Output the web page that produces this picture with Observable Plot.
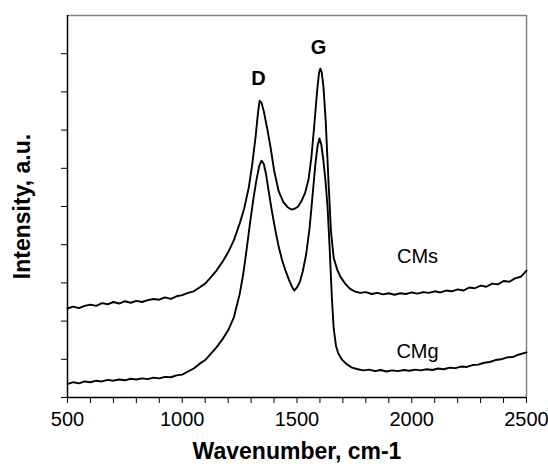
<!DOCTYPE html>
<html>
<head>
<meta charset="utf-8">
<script src="https://cdn.jsdelivr.net/npm/d3@7"></script>
<script src="https://cdn.jsdelivr.net/npm/@observablehq/plot@0.6"></script>
<style>
  html, body { margin: 0; padding: 0; background: white; }
</style>
</head>
<body>
<div id="chart"></div>
<script>
// Raman spectra (intensity in arbitrary units, 0–10 frame)
const cmsWavenumber = [500, 525, 550, 575, 600, 625, 650, 675, 700, 725, 750, 775, 800, 825, 850, 875, 900, 925, 950, 975, 1000, 1025, 1050, 1075, 1100, 1125, 1150, 1175, 1200, 1225, 1250, 1270, 1290, 1305, 1320, 1330, 1337, 1345, 1355, 1370, 1385, 1400, 1420, 1440, 1460, 1475, 1490, 1505, 1520, 1535, 1550, 1562, 1575, 1588, 1596, 1602, 1608, 1615, 1625, 1637, 1648, 1660, 1675, 1690, 1710, 1730, 1750, 1775, 1800, 1825, 1850, 1875, 1900, 1925, 1950, 1975, 2000, 2025, 2050, 2075, 2100, 2125, 2150, 2175, 2200, 2225, 2250, 2275, 2300, 2325, 2350, 2375, 2400, 2425, 2450, 2475, 2500];
const cmsIntensity  = [2.33, 2.38, 2.34, 2.40, 2.43, 2.40, 2.47, 2.44, 2.50, 2.46, 2.52, 2.48, 2.53, 2.50, 2.55, 2.58, 2.56, 2.62, 2.58, 2.65, 2.68, 2.74, 2.78, 2.88, 2.98, 3.15, 3.33, 3.55, 3.80, 4.12, 4.55, 4.95, 5.50, 6.10, 6.85, 7.45, 7.77, 7.72, 7.50, 7.05, 6.54, 5.95, 5.40, 5.12, 4.98, 4.92, 4.94, 5.00, 5.15, 5.35, 5.70, 6.25, 7.10, 8.05, 8.50, 8.61, 8.50, 8.15, 7.25, 5.68, 4.35, 3.65, 3.35, 3.15, 2.98, 2.85, 2.78, 2.74, 2.76, 2.71, 2.74, 2.70, 2.73, 2.69, 2.73, 2.71, 2.75, 2.72, 2.76, 2.74, 2.78, 2.75, 2.80, 2.78, 2.83, 2.80, 2.88, 2.86, 2.93, 2.90, 2.98, 2.96, 3.05, 3.03, 3.12, 3.16, 3.32];

const cmgWavenumber = [500, 525, 550, 575, 600, 625, 650, 675, 700, 725, 750, 775, 800, 825, 850, 875, 900, 925, 950, 975, 1000, 1025, 1050, 1075, 1100, 1125, 1150, 1175, 1200, 1225, 1250, 1265, 1280, 1295, 1310, 1322, 1335, 1345, 1355, 1365, 1376, 1390, 1405, 1420, 1435, 1450, 1465, 1478, 1488, 1500, 1512, 1525, 1540, 1555, 1568, 1580, 1590, 1598, 1606, 1615, 1624, 1633, 1642, 1652, 1660, 1670, 1680, 1695, 1715, 1740, 1765, 1790, 1815, 1840, 1865, 1890, 1915, 1940, 1965, 1990, 2015, 2040, 2065, 2090, 2115, 2140, 2165, 2190, 2215, 2240, 2265, 2290, 2315, 2340, 2365, 2390, 2415, 2440, 2465, 2500];
const cmgIntensity  = [0.35, 0.40, 0.37, 0.42, 0.40, 0.44, 0.42, 0.46, 0.44, 0.47, 0.45, 0.49, 0.47, 0.50, 0.48, 0.52, 0.50, 0.54, 0.53, 0.58, 0.60, 0.68, 0.76, 0.88, 0.98, 1.15, 1.32, 1.52, 1.76, 2.10, 2.70, 3.20, 3.85, 4.55, 5.20, 5.65, 6.05, 6.20, 6.12, 5.85, 5.42, 4.90, 4.40, 3.95, 3.60, 3.32, 3.08, 2.90, 2.80, 2.88, 3.02, 3.30, 3.75, 4.45, 5.30, 6.10, 6.60, 6.78, 6.62, 6.20, 5.68, 5.00, 3.95, 2.60, 1.80, 1.35, 1.15, 1.00, 0.88, 0.78, 0.74, 0.71, 0.73, 0.69, 0.72, 0.68, 0.71, 0.69, 0.72, 0.70, 0.73, 0.71, 0.74, 0.72, 0.76, 0.74, 0.78, 0.77, 0.81, 0.80, 0.85, 0.86, 0.91, 0.93, 0.98, 1.00, 1.05, 1.06, 1.12, 1.18];

const xTicks = d3.range(500, 2501, 100);
const xLabelTicks = [500, 1000, 1500, 2000, 2500];
const yTicks = d3.range(0, 10, 1);

const peakLabels = [
  {text: "D", x: 1332, y: 8.35},
  {text: "G", x: 1594, y: 9.16}
];
const seriesLabels = [
  {text: "CMs", x: 2025, y: 3.69},
  {text: "CMg", x: 2025, y: 1.20}
];

const cms = cmsWavenumber.map((x, i) => ({x, y: cmsIntensity[i]}));
const cmg = cmgWavenumber.map((x, i) => ({x, y: cmgIntensity[i]}));

const font = "'Liberation Sans', Arial, sans-serif";

const chart = Plot.plot({
  width: 548,
  height: 475,
  marginLeft: 67,
  marginRight: 22,
  marginTop: 15,
  marginBottom: 78,
  style: {fontFamily: font, fontSize: "20px", background: "white", color: "black"},
  x: {domain: [500, 2500]},
  y: {domain: [0, 10]},
  marks: [
    Plot.ruleY([10], {stroke: "#808080", strokeWidth: 1.5}),
    Plot.ruleX([2500], {stroke: "#808080", strokeWidth: 1.5}),
    Plot.axisX({
      ticks: xTicks,
      tickSize: 6,
      tickPadding: 8,
      fontSize: 20,
      tickFormat: d => xLabelTicks.includes(d) ? String(d) : "",
      label: null
    }),
    Plot.axisY({
      ticks: yTicks,
      tickSize: 6,
      tickFormat: () => "",
      label: null
    }),
    Plot.ruleX([500], {stroke: "black", strokeWidth: 1.5}),
    Plot.ruleY([0], {stroke: "black", strokeWidth: 1.5}),
    Plot.line(cms, {x: "x", y: "y", curve: "linear", stroke: "black", strokeWidth: 1.9}),
    Plot.line(cmg, {x: "x", y: "y", curve: "linear", stroke: "black", strokeWidth: 1.9}),
    Plot.text(peakLabels, {x: "x", y: "y", text: "text", fontWeight: "bold", fontSize: 20}),
    Plot.text(seriesLabels, {x: "x", y: "y", text: "text", fontSize: 20}),
    Plot.text(["Wavenumber, cm-1"], {frameAnchor: "bottom", dy: 54, lineAnchor: "middle", fontWeight: "bold", fontSize: 23}),
    Plot.text(["Intensity, a.u."], {frameAnchor: "left", dx: -45, rotate: -90, textAnchor: "middle", lineAnchor: "middle", fontWeight: "bold", fontSize: 23})
  ]
});

document.getElementById("chart").appendChild(chart);
</script>
</body>
</html>
